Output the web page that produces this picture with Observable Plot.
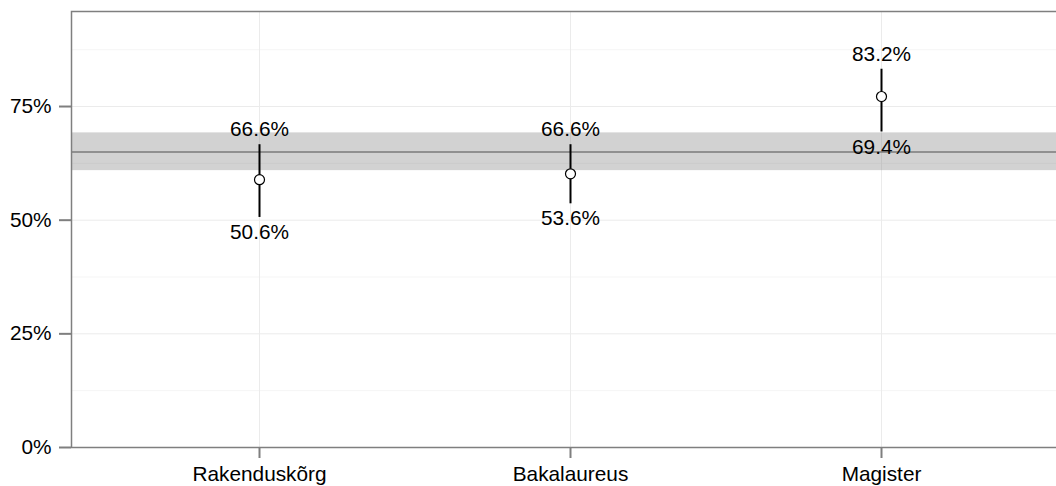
<!DOCTYPE html>
<html><head><meta charset="utf-8">
<script src="https://cdn.jsdelivr.net/npm/d3@7"></script>
<script src="https://cdn.jsdelivr.net/npm/@observablehq/plot@0.6"></script>
<style>
html,body{margin:0;padding:0;overflow:hidden;background:#fff;}
#chart svg{overflow:hidden;display:block;}
</style></head><body><div id="chart"></div>
<script>
const categories = ["Rakenduskõrg", "Bakalaureus", "Magister"];
const means = [0.589, 0.602, 0.772];
const lowers = [0.506, 0.536, 0.694];
const uppers = [0.666, 0.666, 0.832];
const overall = 0.65;
const bandLow = 0.609;
const bandHigh = 0.692;
const yTicks = [0, 0.25, 0.5, 0.75];
const yMinor = [0.125, 0.375, 0.625, 0.875];

const data = categories.map((c, i) => ({category: c, mean: means[i], lower: lowers[i], upper: uppers[i]}));
const fmt = d3.format(".1%");

const chart = Plot.plot({
  width: 1056, height: 486,
  marginLeft: 71, marginRight: -12, marginTop: 11, marginBottom: 39,
  style: {fontFamily: "'Liberation Sans', Arial, sans-serif", fontSize: "20.8px", color: "#000", background: "#fff"},
  x: {type: "point", domain: categories, padding: 0.6, label: null},
  y: {domain: [0, 0.959], label: null},
  marks: [
    Plot.ruleY(yMinor, {stroke: "#f5f5f5", strokeWidth: 1}),
    Plot.ruleY(yTicks, {stroke: "#ebebeb", strokeWidth: 1}),
    Plot.ruleX(categories, {stroke: "#ebebeb", strokeWidth: 1}),
    Plot.rect([{y1: bandLow, y2: bandHigh}], {y1: "y1", y2: "y2", fill: "#7f7f7f", fillOpacity: 0.35}),
    Plot.ruleY([overall], {stroke: "#7a7a7a", strokeWidth: 1.5}),
    Plot.ruleX(data, {x: "category", y1: "lower", y2: "upper", stroke: "#000", strokeWidth: 2}),
    Plot.dot(data, {x: "category", y: "mean", r: 5, fill: "#fff", stroke: "#000", strokeWidth: 1.2}),
    Plot.text(data, {x: "category", y: "upper", text: d => fmt(d.upper), dy: -15, fontSize: 20.8, fill: "#000"}),
    Plot.text(data, {x: "category", y: "lower", text: d => fmt(d.lower), dy: 15, fontSize: 20.8, fill: "#000"}),
    Plot.frame({stroke: "#7f7f7f", strokeWidth: 1.5}),
    Plot.axisY({ticks: yTicks, tickFormat: d3.format(".0%"), tickSize: 12, tickPadding: 8, stroke: "#7f7f7f", strokeWidth: 2, fontSize: 20.8, label: null}),
    Plot.axisX({tickSize: 11, tickPadding: 8, stroke: "#7f7f7f", strokeWidth: 2, fontSize: 20.8, label: null})
  ]
});
document.getElementById("chart").appendChild(chart);
</script>
</body></html>
